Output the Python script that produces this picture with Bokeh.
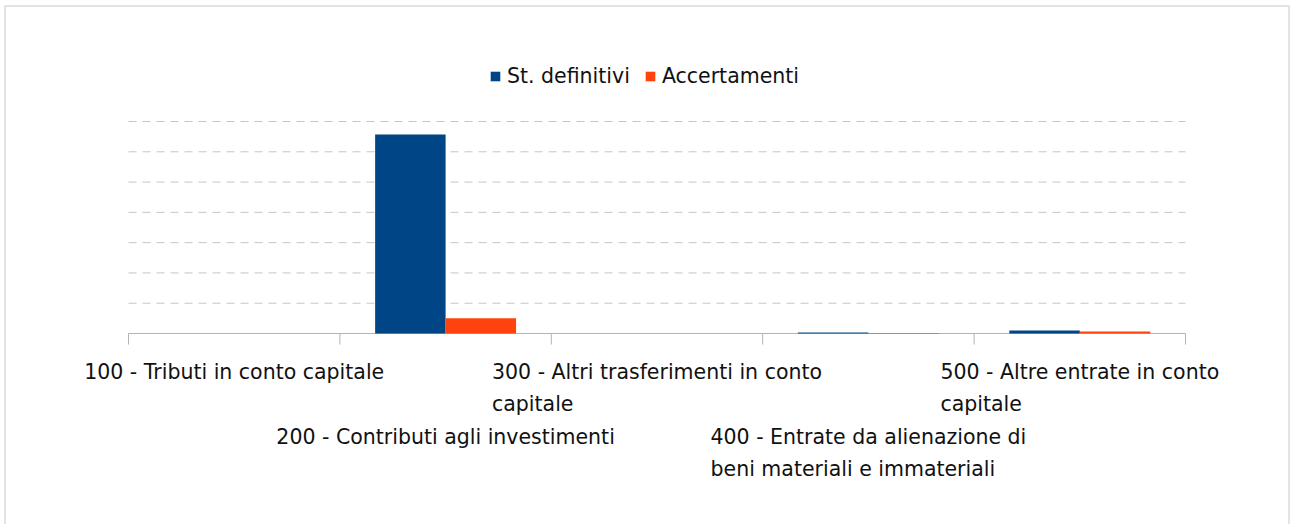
from bokeh.plotting import figure
from bokeh.models import Range1d, Legend, LegendItem, Label
from bokeh.embed import file_html
from bokeh.resources import INLINE

# ---- data ----
categories = [
    "100 - Tributi in conto capitale",
    "200 - Contributi agli investimenti",
    "300 - Altri trasferimenti in conto\ncapitale",
    "400 - Entrate da alienazione di\nbeni materiali e immateriali",
    "500 - Altre entrate in conto\ncapitale",
]
series_names = ["St. definitivi", "Accertamenti"]
st_definitivi = [0.0, 6.57, 0.0, 0.03, 0.10]
accertamenti = [0.0, 0.50, 0.0, 0.02, 0.07]
grid_values = [1, 2, 3, 4, 5, 6, 7]
colors = ["#004586", "#ff420e"]

# ---- layout (pixels) ----
W, H = 1290, 524
PLOT_L, PLOT_R, PLOT_T, PLOT_B = 128, 1185, 121, 333
FONT = "DejaVu Sans"
FS = "20.5px"

n = len(categories)
ymax = max(grid_values)
xu = (PLOT_R - PLOT_L) / n          # px per category
yu = (PLOT_B - PLOT_T) / ymax       # px per value unit
x0, x1 = -PLOT_L / xu, n + (W - PLOT_R) / xu
y0, y1 = -(H - PLOT_B) / yu, ymax + PLOT_T / yu

def px_x(px):
    return x0 + px / xu

def px_y(py):
    return y1 - py / yu

p = figure(width=W, height=H, output_backend="svg", toolbar_location=None,
           x_range=Range1d(x0, x1), y_range=Range1d(y0, y1), min_border=0)
p.outline_line_color = None
p.axis.visible = False
p.grid.visible = False

# chart border (light frame around the whole chart)
p.line(x=[px_x(4.5), px_x(4.5), px_x(1288.5), px_x(1288.5)],
       y=[px_y(530), px_y(5.5), px_y(5.5), px_y(530)],
       line_color="#dadada", line_width=1.5)

# dashed horizontal grid
p.segment(x0=[0] * len(grid_values), x1=[n] * len(grid_values), y0=grid_values, y1=grid_values,
          line_color="#c6c6c6", line_dash="8 6", line_width=1)

# x axis line and category boundary ticks
tick_len = 11 / yu
p.segment(x0=[0], x1=[n], y0=[0], y1=[0], line_color="#b3b3b3", line_width=1)
p.segment(x0=list(range(n + 1)), x1=list(range(n + 1)), y0=[0] * (n + 1), y1=[-tick_len] * (n + 1),
          line_color="#b3b3b3", line_width=1)

# bars
centers = [i + 0.5 for i in range(n)]
bw = 1.0 / 3.0
r1 = p.vbar(x=[c - bw / 2 for c in centers], top=st_definitivi, width=bw, color=colors[0], line_color=None)
r2 = p.vbar(x=[c + bw / 2 for c in centers], top=accertamenti, width=bw, color=colors[1], line_color=None)

# category labels, staggered rows
for i, (c, txt) in enumerate(zip(centers, categories)):
    row = i % 2
    lab = Label(x=c, y=0, x_units="data", y_units="data",
                y_offset=-26 - 65 * row, text=txt,
                anchor="top_center", text_align="left",
                text_font=FONT, text_font_size=FS, text_color="#111111",
                text_line_height=1.36)
    p.add_layout(lab)

legend = Legend(items=[LegendItem(label=series_names[0], renderers=[r1]),
                       LegendItem(label=series_names[1], renderers=[r2])],
                orientation="horizontal", location=(489, 436),
                glyph_width=12, glyph_height=12, label_standoff=6, spacing=14,
                padding=0, margin=0, border_line_color=None, background_fill_alpha=0,
                label_text_font=FONT, label_text_font_size=FS, label_text_color="#111111")
p.add_layout(legend, "center")

open("out.html", "w").write(file_html(p, INLINE))
